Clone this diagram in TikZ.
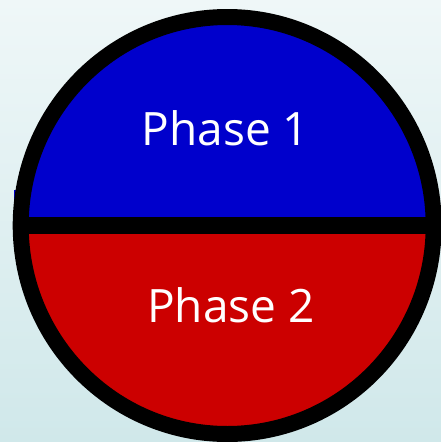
\documentclass[tikz,border=0pt]{standalone}
\usepackage{fontspec}
\setmainfont{Open Sans}
\begin{document}
\begin{tikzpicture}[x=1pt,y=-1pt,
  ringline/.style={draw=black,line width=16pt},
  phaselabel/.style={text=white,font=\fontsize{46}{50}\selectfont,inner sep=0pt,anchor=base}]
\definecolor{phaseblue}{HTML}{0000CC}
\definecolor{phasered}{HTML}{CC0000}
\definecolor{bgtop}{HTML}{EFF7F8}
\definecolor{bgbottom}{HTML}{D0E8EA}
% page background
\shade[top color=bgtop,bottom color=bgbottom] (0,0) rectangle (441,442);
\useasboundingbox (0,0) rectangle (441,442);
\coordinate (c) at (227.2,225.5);
% upper and lower halves
\begin{scope}
  \clip (0,0) rectangle (441,225.5);
  \fill[phaseblue] (c) ellipse [x radius=206.5, y radius=208.5];
\end{scope}
\fill[phaseblue] (13.5,190) rectangle (16,217);
\begin{scope}
  \clip (0,225.5) rectangle (441,442);
  \fill[phasered] (c) ellipse [x radius=206.5, y radius=208.5];
\end{scope}
% outline and dividing bar
\draw[ringline] (c) ellipse [x radius=206.5, y radius=208.5];
\fill[black] (20,217) rectangle (436,234);
% labels
\node[phaselabel] (p1) at (225.5,145) {Phase 1};
\node[phaselabel] (p2) at (231,322) {Phase 2};
\end{tikzpicture}
\end{document}
